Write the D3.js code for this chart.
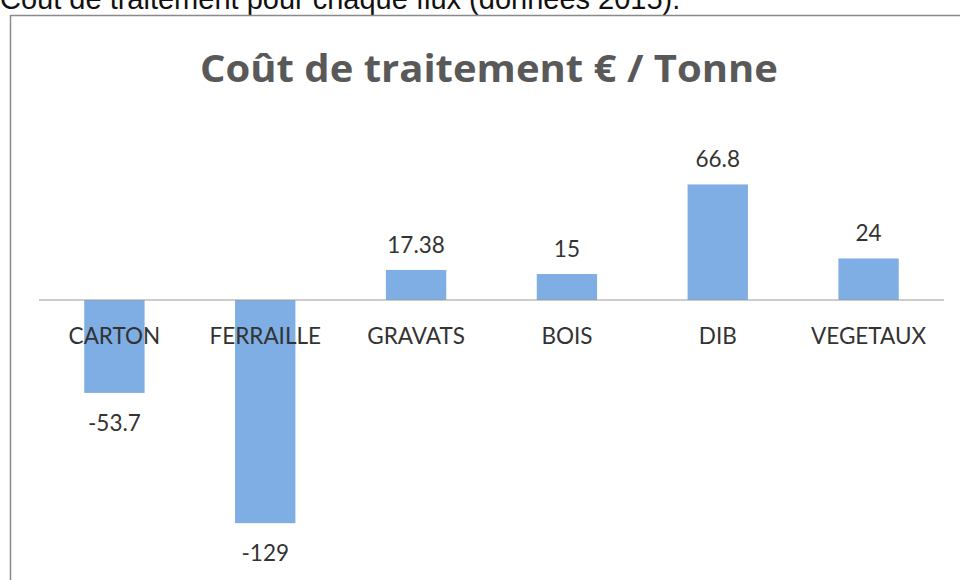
<!DOCTYPE html>
<html>
<head>
<meta charset="utf-8">
<script src="https://cdn.jsdelivr.net/npm/d3@7"></script>
<style>
  body { margin: 0; background: #fff; }
  svg { display: block; }
</style>
</head>
<body>
<svg width="960" height="580"></svg>
<script>
// données
var categories = ['CARTON', 'FERRAILLE', 'GRAVATS', 'BOIS', 'DIB', 'VEGETAUX'];
var valeurs = [-53.7, -129, 17.38, 15, 66.8, 24];
var etiquettes = ['-53.7', '-129', '17.38', '15', '66.8', '24'];

var svg = d3.select('svg');

// texte du document au-dessus (coupé par le scan)
svg.append('text')
	.attr('x', 0)
	.attr('y', 9)
	.attr('font-family', 'Liberation Sans, Arial, sans-serif')
	.attr('font-size', 29)
	.attr('fill', '#111')
	.text('Coût de traitement pour chaque flux (données 2015).');

// cadre du graphique
svg.append('rect')
	.attr('x', 10.5)
	.attr('y', 15.5)
	.attr('width', 1000)
	.attr('height', 600)
	.attr('fill', 'none')
	.attr('stroke', '#8a8a8a')
	.attr('stroke-width', 1.5);

svg.append('text')
	.attr('x', 489)
	.attr('y', 82)
	.attr('text-anchor', 'middle')
	.attr('font-family', 'Open Sans, Lato, sans-serif')
	.attr('font-weight', 'bold')
	.attr('font-size', 37)
	.attr('textLength', 578)
	.attr('lengthAdjust', 'spacingAndGlyphs')
	.attr('fill', '#595959')
	.text('Coût de traitement € / Tonne');

var x = d3.scaleBand()
	.domain(categories)
	.range([39, 944])
	.paddingInner(0.6)
	.paddingOuter(0.3);

var y = d3.scaleLinear()
	.domain([-140, 80])
	.range([300 + 140 * 1.73, 300 - 80 * 1.73]);

svg.selectAll('rect.barre')
	.data(valeurs)
	.enter()
	.append('rect')
	.attr('class', 'barre')
	.attr('x', function(d, i) { return x(categories[i]); })
	.attr('y', function(d) { return y(Math.max(0, d)); })
	.attr('width', x.bandwidth())
	.attr('height', function(d) { return Math.abs(y(d) - y(0)); })
	.attr('fill', '#7eaee3');

// ligne du zéro
svg.append('line')
	.attr('x1', 39)
	.attr('x2', 944)
	.attr('y1', y(0))
	.attr('y2', y(0))
	.attr('stroke', '#9a9a9a')
	.attr('stroke-width', 1);

// noms des catégories
svg.selectAll('text.cat')
	.data(categories)
	.enter()
	.append('text')
	.attr('class', 'cat')
	.attr('x', function(d) { return x(d) + x.bandwidth() / 2; })
	.attr('y', y(0) + 44)
	.attr('text-anchor', 'middle')
	.attr('font-family', 'Lato, Open Sans, sans-serif')
	.attr('font-size', 22.5)
	.attr('fill', '#333')
	.text(function(d) { return d; });

// étiquettes de valeurs
svg.selectAll('text.val')
	.data(valeurs)
	.enter()
	.append('text')
	.attr('class', 'val')
	.attr('x', function(d, i) { return x(categories[i]) + x.bandwidth() / 2; })
	.attr('y', function(d) { return d >= 0 ? y(d) - 17 : y(d) + 38; })
	.attr('text-anchor', 'middle')
	.attr('font-family', 'Lato, Open Sans, sans-serif')
	.attr('font-size', 22.5)
	.attr('fill', '#333')
	.text(function(d, i) { return etiquettes[i]; });
</script>
</body>
</html>
